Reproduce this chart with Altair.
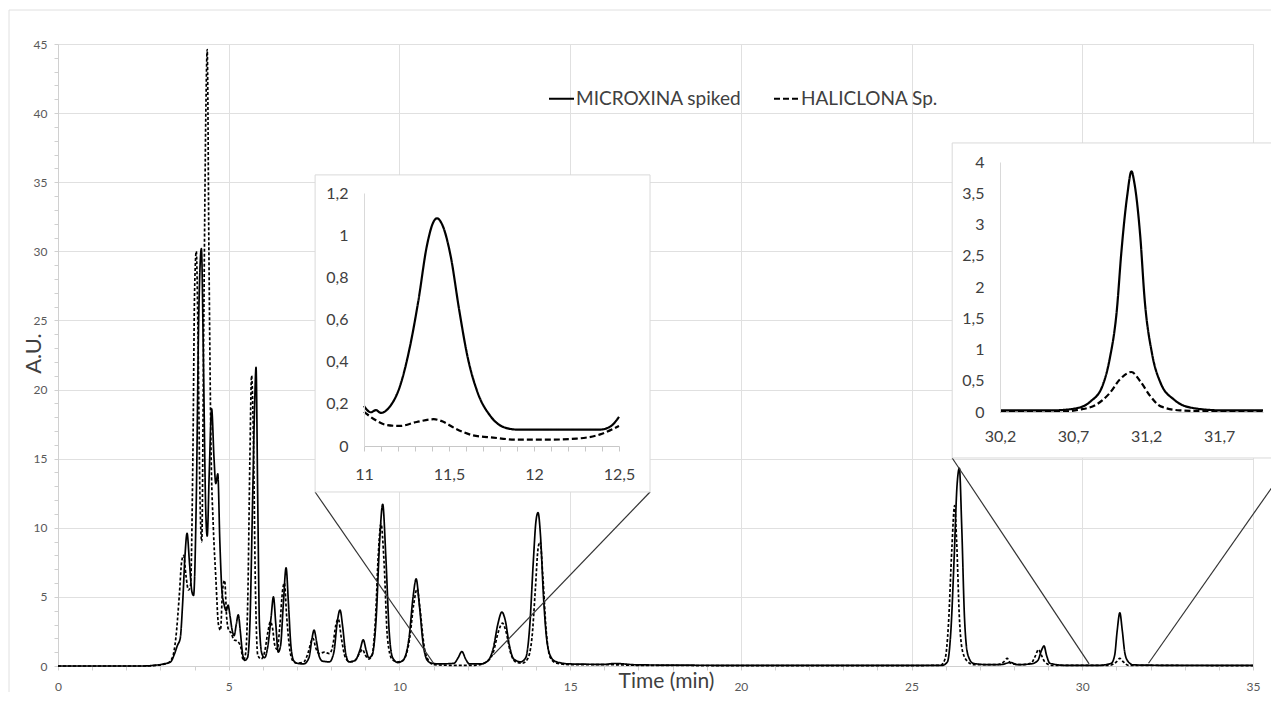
import altair as alt
import pandas as pd

SERIES = ["MICROXINA spiked", "HALICLONA Sp."]

# ---- main chromatogram (time in min, absorbance A.U.) ----
micro_points = [(0.0,0.0),(2.5,0.0),(2.8,0.05),(3.1,0.15),(3.3,0.3),(3.4,0.8),(3.5,1.5),(3.58,2.0),(3.65,4.5),(3.72,8.0),(3.78,9.6),(3.85,7.5),(3.92,5.4),(3.97,5.1),(4.05,12.0),(4.12,25.0),(4.2,30.2),(4.26,22.0),(4.32,12.0),(4.37,9.4),(4.43,14.0),(4.5,18.6),(4.57,15.0),(4.62,13.2),(4.68,13.9),(4.74,9.0),(4.8,5.5),(4.86,4.5),(4.93,4.0),(4.98,4.4),(5.04,3.6),(5.1,2.6),(5.16,2.2),(5.22,3.0),(5.28,3.7),(5.34,2.5),(5.4,1.0),(5.47,0.4),(5.55,0.6),(5.62,3.0),(5.7,12.0),(5.76,19.0),(5.8,21.6),(5.85,12.0),(5.9,3.0),(5.97,0.9),(6.05,0.6),(6.15,1.5),(6.24,3.5),(6.31,5.0),(6.38,3.0),(6.45,1.0),(6.52,1.5),(6.6,4.5),(6.68,7.1),(6.75,4.5),(6.82,1.5),(6.9,0.4),(7.0,0.2),(7.2,0.15),(7.35,0.6),(7.44,2.0),(7.5,2.6),(7.57,1.8),(7.65,0.7),(7.75,0.35),(7.95,0.3),(8.08,1.0),(8.18,3.2),(8.26,4.05),(8.34,2.8),(8.42,1.0),(8.52,0.3),(8.7,0.4),(8.85,1.2),(8.94,1.9),(9.02,1.2),(9.1,0.6),(9.2,0.8),(9.32,3.5),(9.42,9.0),(9.51,11.7),(9.6,8.0),(9.7,2.5),(9.8,0.6),(9.95,0.25),(10.1,0.4),(10.28,2.0),(10.4,5.0),(10.49,6.3),(10.58,4.5),(10.7,1.5),(10.82,0.4),(10.95,0.2),(11.2,0.15),(11.6,0.2),(11.72,0.6),(11.83,1.05),(11.94,0.5),(12.05,0.15),(12.4,0.15),(12.6,0.4),(12.75,1.3),(12.88,3.0),(13.0,3.9),(13.1,3.3),(13.22,1.5),(13.35,0.5),(13.55,0.3),(13.7,0.6),(13.82,3.0),(13.92,7.5),(14.0,10.5),(14.06,11.1),(14.13,9.5),(14.22,5.0),(14.32,1.8),(14.45,0.6),(14.6,0.3),(15.0,0.15),(16.0,0.12),(16.3,0.18),(17.0,0.08),(20.0,0.05),(25.0,0.05),(25.9,0.05),(26.05,0.3),(26.15,2.5),(26.25,8.0),(26.33,13.0),(26.4,14.3),(26.47,10.0),(26.55,3.5),(26.65,0.8),(26.8,0.2),(27.2,0.1),(27.6,0.1),(27.9,0.25),(28.1,0.1),(28.5,0.15),(28.7,0.4),(28.8,1.1),(28.88,1.45),(28.95,0.8),(29.05,0.2),(29.5,0.05),(30.5,0.05),(30.85,0.2),(30.95,0.8),(31.02,2.5),(31.1,3.85),(31.17,2.6),(31.25,0.9),(31.35,0.3),(31.5,0.08),(32.5,0.05),(35.0,0.05)]

hali_points = [(0.0,0.0),(2.5,0.0),(2.9,0.05),(3.2,0.2),(3.35,0.6),(3.45,2.0),(3.55,5.0),(3.62,7.5),(3.68,8.0),(3.75,6.5),(3.82,5.5),(3.88,5.8),(3.95,15.0),(4.0,27.0),(4.05,30.0),(4.1,24.0),(4.16,12.0),(4.21,9.0),(4.27,25.0),(4.33,40.0),(4.37,44.6),(4.42,30.0),(4.48,16.0),(4.55,10.0),(4.62,6.5),(4.7,3.0),(4.76,2.6),(4.82,5.5),(4.88,6.2),(4.94,3.5),(5.0,2.6),(5.07,2.4),(5.15,1.9),(5.25,1.8),(5.35,1.4),(5.43,0.4),(5.5,1.0),(5.56,5.0),(5.62,15.0),(5.67,21.0),(5.72,17.0),(5.78,6.0),(5.85,0.8),(5.95,0.5),(6.05,1.0),(6.15,2.5),(6.22,3.2),(6.28,2.8),(6.35,1.5),(6.42,1.2),(6.5,3.0),(6.58,5.5),(6.63,6.0),(6.7,3.5),(6.8,1.0),(6.9,0.3),(7.0,0.2),(7.2,0.3),(7.33,1.0),(7.42,1.8),(7.47,2.0),(7.55,1.3),(7.65,0.9),(7.8,1.0),(7.95,0.9),(8.05,1.5),(8.14,3.0),(8.21,3.4),(8.3,2.0),(8.42,0.6),(8.55,0.3),(8.7,0.4),(8.85,1.0),(8.92,1.2),(9.0,0.8),(9.1,0.5),(9.2,0.8),(9.3,3.5),(9.38,8.0),(9.46,10.3),(9.55,7.5),(9.65,2.0),(9.78,0.5),(9.95,0.3),(10.1,0.4),(10.3,2.0),(10.42,4.5),(10.52,5.6),(10.6,4.2),(10.72,1.5),(10.85,0.4),(11.0,0.1),(11.5,0.05),(12.2,0.05),(12.55,0.3),(12.75,1.0),(12.9,2.5),(13.02,3.1),(13.12,2.5),(13.25,1.0),(13.4,0.3),(13.6,0.2),(13.75,0.5),(13.88,2.0),(13.98,5.5),(14.06,8.5),(14.12,9.0),(14.2,6.5),(14.3,2.5),(14.42,0.6),(14.6,0.2),(15.0,0.1),(16.0,0.1),(17.0,0.05),(20.0,0.03),(25.0,0.03),(25.85,0.05),(25.98,0.5),(26.08,3.0),(26.18,8.5),(26.26,11.6),(26.32,9.0),(26.4,3.5),(26.5,1.0),(26.65,0.3),(26.8,0.1),(27.5,0.1),(27.7,0.3),(27.8,0.55),(27.9,0.2),(28.2,0.1),(28.5,0.2),(28.62,0.7),(28.72,1.2),(28.8,0.8),(28.9,0.3),(29.1,0.05),(30.8,0.05),(31.0,0.3),(31.1,0.55),(31.2,0.3),(31.35,0.05),(35.0,0.03)]

# ---- inset 1 (11 - 12.5 min) ----
in1_micro_points = [(11.0,0.19),(11.04,0.16),(11.07,0.17),(11.1,0.157),(11.15,0.185),(11.21,0.28),(11.27,0.47),(11.32,0.69),(11.37,0.95),(11.41,1.065),(11.43,1.08),(11.46,1.05),(11.51,0.90),(11.56,0.645),(11.61,0.42),(11.67,0.25),(11.74,0.146),(11.82,0.09),(11.9,0.078),(12.0,0.078),(12.19,0.078),(12.39,0.078),(12.45,0.093),(12.5,0.138)]
in1_hali_points = [(11.0,0.162),(11.07,0.122),(11.13,0.10),(11.21,0.095),(11.31,0.114),(11.41,0.127),(11.46,0.117),(11.54,0.082),(11.64,0.051),(11.76,0.040),(11.9,0.030),(12.09,0.030),(12.25,0.035),(12.39,0.055),(12.5,0.095)]

# ---- inset 2 (30.2 - 32 min) ----
in2_micro_points = [(30.2,0.027),(30.57,0.027),(30.73,0.064),(30.82,0.17),(30.9,0.41),(30.95,0.84),(31.0,1.64),(31.03,2.54),(31.07,3.45),(31.1,3.85),(31.12,3.66),(31.16,2.81),(31.19,1.80),(31.24,0.94),(31.3,0.46),(31.39,0.20),(31.52,0.064),(31.71,0.027),(32.0,0.027)]
in2_hali_points = [(30.2,0.01),(30.57,0.0),(30.75,0.04),(30.86,0.12),(30.95,0.30),(31.02,0.52),(31.1,0.64),(31.16,0.49),(31.23,0.25),(31.3,0.09),(31.43,0.027),(31.7,0.01),(32.0,0.01)]

# tick values
main_x_ticks = list(range(0, 36))
main_y_ticks = list(range(0, 46))
in1_x_ticks = [11.0, 11.1, 11.2, 11.3, 11.4, 11.5, 11.6, 11.7, 11.8, 11.9, 12.0, 12.1, 12.2, 12.3, 12.4, 12.5]
in1_y_ticks = [0, 0.2, 0.4, 0.6, 0.8, 1.0, 1.2]
in2_x_ticks = [30.2, 30.7, 31.2, 31.7]
in2_y_ticks = [0, 0.5, 1, 1.5, 2, 2.5, 3, 3.5, 4]

# inset boxes and zoom connector lines, in main-chart data units
box_t1 = [7.53, 26.19]
box_t2 = [17.34, 36.6]
box_v1 = [12.59, 15.05]
box_v2 = [35.53, 37.84]
conn_t1 = [7.53, 17.34, 26.19, 36.16]
conn_v1 = [12.59, 12.59, 15.05, 15.05]
conn_t2 = [11.0, 12.75, 30.2, 31.94]
conn_v2 = [0.2, 0.8, 0.15, 0.2]


def frame(micro, hali):
    rows = [{"t": t, "v": v, "series": SERIES[0]} for t, v in micro]
    rows += [{"t": t, "v": v, "series": SERIES[1]} for t, v in hali]
    return pd.DataFrame(rows)


main_df = frame(micro_points, hali_points)
in1_df = frame(in1_micro_points, in1_hali_points)
in2_df = frame(in2_micro_points, in2_hali_points)
box_df = pd.DataFrame({"t": box_t1, "t2": box_t2, "v": box_v1, "v2": box_v2})
conn_df = pd.DataFrame({"t": conn_t1, "t2": conn_t2, "v": conn_v1, "v2": conn_v2})

FONT = "Lato"
GRID = "#e0e0e0"
comma = "replace(format(datum.value, '.1~f'), '.', ',')"

x_main = alt.X(
    "t:Q",
    scale=alt.Scale(domain=[0, 35], nice=False, zero=False),
    axis=alt.Axis(
        values=main_x_ticks,
        labelExpr="datum.value % 5 === 0 ? datum.label : ''",
        gridOpacity={"condition": {"test": "datum.value % 5 === 0", "value": 1}, "value": 0},
        gridColor=GRID, domainColor="#d0d0d0", tickColor="#d0d0d0", tickSize=4,
        labelColor="#595959", labelFontSize=12, labelPadding=11, labelFont=FONT,
        labelOverlap=False, labelFlush=False,
        title="Time (min)", titleFont=FONT, titleFontSize=21, titleFontWeight="normal",
        titleColor="#404040", titleX=608, titleY=21, titleAlign="center",
        titleBaseline="alphabetic",
    ),
)
y_main = alt.Y(
    "v:Q",
    scale=alt.Scale(domain=[0, 45], nice=False, zero=True),
    axis=alt.Axis(
        values=main_y_ticks,
        labelExpr="datum.value % 5 === 0 ? datum.label : ''",
        gridOpacity={"condition": {"test": "datum.value % 5 === 0", "value": 1}, "value": 0},
        gridColor=GRID, domainColor="#d0d0d0", tickColor="#d0d0d0", tickSize=4,
        labelColor="#595959", labelFontSize=12, labelPadding=7, labelFont=FONT,
        labelOverlap=False,
        title="A.U.", titleFont=FONT, titleFontSize=22, titleFontWeight="normal",
        titleColor="#404040", titleAngle=270, titleX=-25, titleY=309,
        titleAlign="center", titleBaseline="middle",
    ),
)

main_lines = alt.Chart(main_df).mark_line(
    color="black", strokeWidth=1.7, interpolate="monotone"
).encode(
    x=x_main,
    y=y_main,
    strokeDash=alt.StrokeDash(
        "series:N",
        scale=alt.Scale(domain=SERIES, range=[[1, 0], [3, 2]]),
        legend=None,
    ),
)

connectors = alt.Chart(conn_df).mark_rule(color="#333333", strokeWidth=1.2).encode(
    x=x_main, x2="t2:Q", y=y_main, y2="v2:Q"
)

boxes = alt.Chart(box_df).mark_rect(fill="white", stroke="#d9d9d9", strokeWidth=1).encode(
    x=x_main, x2="t2:Q", y=y_main, y2="v2:Q"
)

main_group = alt.layer(main_lines, connectors, boxes)


def inset(df, xdom, xrange, ydom, yrange, xticks, yticks, xlabel_expr, xoffset, yoffset,
          xtick_size, legend):
    return alt.Chart(df).mark_line(
        color="black", strokeWidth=2.2, interpolate="monotone"
    ).encode(
        x=alt.X(
            "t:Q",
            scale=alt.Scale(domain=xdom, range=xrange, nice=False, zero=False),
            axis=alt.Axis(
                orient="bottom", offset=xoffset, values=xticks, labelExpr=xlabel_expr,
                grid=False, domainColor="#c8c8c8", tickColor="#c8c8c8",
                ticks=xtick_size > 0, tickSize=max(xtick_size, 1),
                labelColor="#404040", labelFontSize=16, labelFont=FONT,
                labelPadding=15 if xtick_size > 0 else 16,
                labelOverlap=False, labelFlush=False, title=None, zindex=1,
            ),
        ),
        y=alt.Y(
            "v:Q",
            scale=alt.Scale(domain=ydom, range=yrange, nice=False, zero=False),
            axis=alt.Axis(
                orient="left", offset=yoffset, values=yticks, labelExpr=comma,
                grid=False, domainColor="#d9d9d9", ticks=False,
                labelColor="#404040", labelFontSize=16, labelFont=FONT,
                labelPadding=16, labelOverlap=False, title=None, zindex=1,
            ),
        ),
        strokeDash=alt.StrokeDash(
            "series:N",
            scale=alt.Scale(domain=SERIES, range=[[1, 0], [6, 3]]),
            legend=legend,
        ),
    )


legend = alt.Legend(
    orient="none", legendX=490, legendY=41, direction="horizontal", title=None,
    symbolType="stroke", symbolSize=625, symbolStrokeWidth=2, symbolStrokeColor="black",
    labelFont=FONT, labelFontSize=19, labelColor="#404040", labelOffset=1, labelLimit=0,
    columnPadding=28, padding=0,
)

inset1 = inset(
    in1_df, [11, 12.5], [306, 561], [0, 1.2], [402, 149], in1_x_ticks, in1_y_ticks,
    "abs(datum.value * 2 - round(datum.value * 2)) < 0.01 ? " + comma + " : ''",
    -220, -306, 5, legend,
)
inset2 = inset(
    in2_df, [30.2, 32.0], [942, 1205], [0, 4], [368, 118], in2_x_ticks, in2_y_ticks,
    comma, -254, -942, 0, None,
)

outer = alt.Chart(pd.DataFrame({"a": [0]})).mark_rect(
    fillOpacity=0, stroke="#e0e0e0", strokeWidth=1
).encode(x=alt.value(-49), x2=alt.value(1300), y=alt.value(-34), y2=alt.value(720))

chart = alt.layer(outer, main_group, inset1, inset2).resolve_scale(
    x="independent", y="independent", strokeDash="independent"
).properties(
    width=1195, height=622,
    autosize=alt.AutoSizeParams(type="none"),
    padding={"left": 50, "top": 36, "right": 18, "bottom": 26},
    background="white",
).configure_view(stroke=None).configure(font=FONT)

chart.save("out.html", embed_options={"renderer": "svg", "actions": False})
